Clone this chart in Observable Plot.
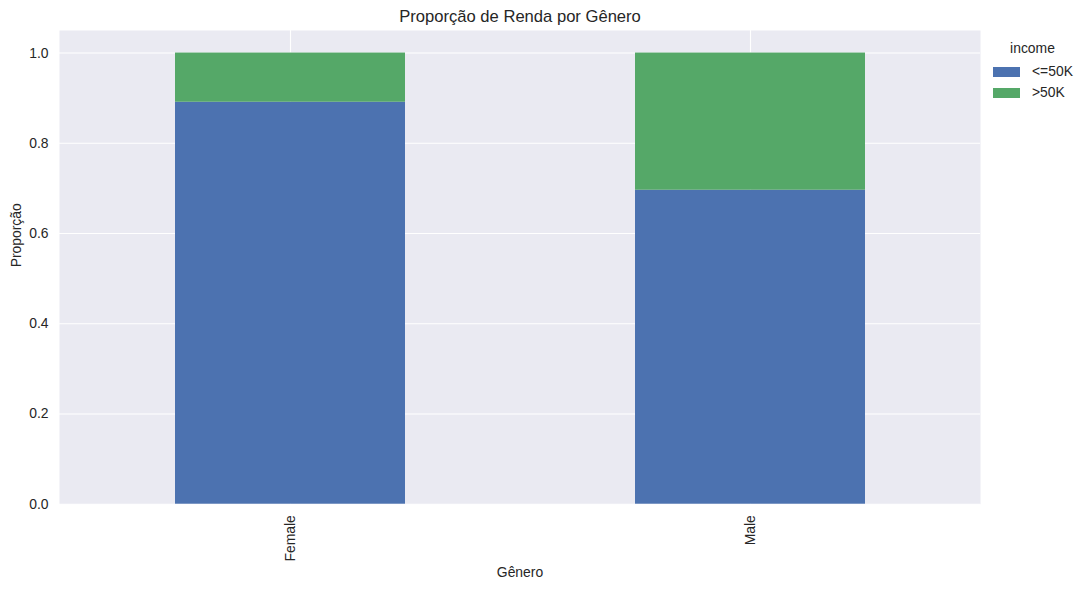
<!DOCTYPE html>
<html>
<head>
<meta charset="utf-8">
<script src="https://cdn.jsdelivr.net/npm/d3@7"></script>
<script src="https://cdn.jsdelivr.net/npm/@observablehq/plot@0.6"></script>
<style>
  body { margin: 0; background: #fff; }
  #wrap { position: relative; width: 1087px; height: 590px; font-family: "Liberation Sans", Arial, sans-serif; color: #262626; }
  #legend { position: absolute; left: 990px; top: 40px; font-size: 13.9px; }
  #legend .ttl { position: absolute; left: 20px; top: 0; width: 45px; text-align: center; white-space: nowrap; }
  #legend .row { position: absolute; left: 3px; white-space: nowrap; height: 14px; }
  #legend .sw { position: absolute; left: 0; top: 2px; width: 27px; height: 10px; }
  #legend .lb { position: absolute; left: 39px; top: -2px; line-height: 16px; }
</style>
</head>
<body>
<div id="wrap"></div>
<script>
const genders = ["Female", "Male"];
const incomeCats = ["<=50K", ">50K"];
const shareLow = [0.891, 0.696];
const shareHigh = [0.109, 0.304];
const colors = ["#4C72B0", "#55A868"];
const yTicks = [0, 0.2, 0.4, 0.6, 0.8, 1.0];
const titleText = "Proporção de Renda por Gênero";
const xLabel = "Gênero";
const yLabel = "Proporção";
const legendTitle = "income";

const rows = genders.flatMap((g, i) => [
  {gender: g, income: incomeCats[0], value: shareLow[i]},
  {gender: g, income: incomeCats[1], value: shareHigh[i]}
]);

const font = "Liberation Sans, Arial, sans-serif";
const ink = "#262626";

const chart = Plot.plot({
  width: 1087,
  height: 590,
  marginTop: 30,
  marginRight: 107,
  marginBottom: 86.3,
  marginLeft: 59,
  style: {fontFamily: font, fontSize: "13.9px", color: ink, background: "white"},
  x: {domain: genders, paddingInner: 0.5, paddingOuter: 0.25, align: 0.5, axis: null},
  y: {domain: [0, 1.05], axis: null},
  color: {domain: incomeCats, range: colors},
  marks: [
    Plot.frame({fill: "#EAEAF2", stroke: null}),
    Plot.gridX({stroke: "white", strokeOpacity: 1, strokeWidth: 1.1}),
    Plot.gridY(yTicks, {stroke: "white", strokeOpacity: 1, strokeWidth: 1.1}),
    Plot.barY(rows, {x: "gender", y: "value", fill: "income", order: incomeCats}),
    Plot.axisY(yTicks, {tickSize: 0, tickPadding: 11, tickFormat: d3.format(".1f"), label: null, fontSize: 13.9, fill: ink}),
    Plot.axisX({tickSize: 0, tickPadding: 11, tickRotate: -90, label: null, fontSize: 13.9, fill: ink}),
    Plot.text([titleText], {frameAnchor: "top", lineAnchor: "middle", dy: -13.5, fontSize: 16.6, fill: ink}),
    Plot.text([yLabel], {frameAnchor: "left", lineAnchor: "middle", dx: -43, rotate: -90, fontSize: 13.9, fill: ink}),
    Plot.text([xLabel], {frameAnchor: "bottom", lineAnchor: "middle", dy: 68, fontSize: 13.9, fill: ink})
  ]
});

const wrap = document.getElementById("wrap");
wrap.appendChild(chart);

const legend = document.createElement("div");
legend.id = "legend";
const t = document.createElement("div");
t.className = "ttl";
t.textContent = legendTitle;
legend.appendChild(t);
incomeCats.forEach((c, i) => {
  const row = document.createElement("div");
  row.className = "row";
  row.style.top = (25 + i * 21) + "px";
  const sw = document.createElement("div");
  sw.className = "sw";
  sw.style.background = colors[i];
  const lb = document.createElement("div");
  lb.className = "lb";
  lb.textContent = c;
  row.appendChild(sw);
  row.appendChild(lb);
  legend.appendChild(row);
});
wrap.appendChild(legend);
</script>
</body>
</html>
